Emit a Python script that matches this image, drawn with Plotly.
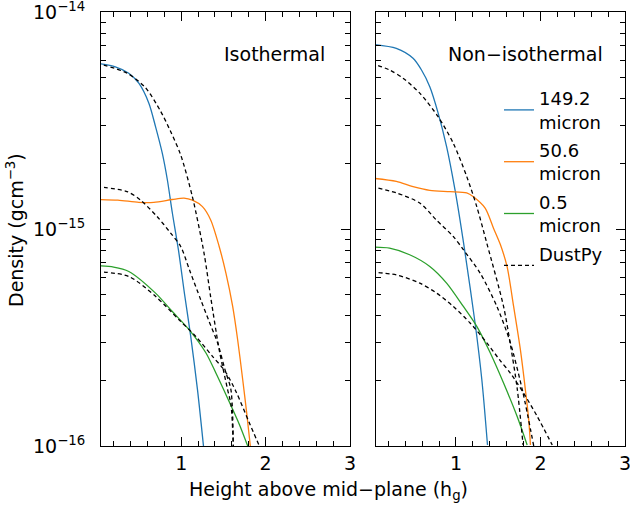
import plotly.graph_objects as go

# ---------------- data (height in h_g, density in g cm^-3) ----------------
# Isothermal panel
iso_blue_x = [0.0, 0.22, 0.379, 0.498, 0.617, 0.696, 0.776, 0.836, 0.895, 0.967, 1.040, 1.113, 1.193, 1.264]
iso_blue_y = [5.82e-15, 5.61e-15, 5.24e-15, 4.71e-15, 3.81e-15, 2.97e-15, 2.24e-15, 1.69e-15, 1.19e-15, 8.04e-16,
              5.01e-16, 3.20e-16, 1.82e-16, 1.0e-16]

iso_orange_x = [0.0, 0.25, 0.498, 0.676, 0.895, 1.033, 1.133, 1.252, 1.351, 1.45, 1.53, 1.61, 1.669, 1.729, 1.776, 1.819]
iso_orange_y = [1.37e-15, 1.36e-15, 1.33e-15, 1.33e-15, 1.37e-15, 1.39e-15, 1.36e-15, 1.27e-15, 1.10e-15, 8.32e-16,
                6.27e-16, 4.40e-16, 3.09e-16, 2.02e-16, 1.42e-16, 1.0e-16]

iso_green_x = [0.0, 0.2, 0.379, 0.696, 0.895, 1.093, 1.292, 1.411, 1.55, 1.688, 1.788]
iso_green_y = [6.78e-16, 6.68e-16, 6.38e-16, 5.07e-16, 4.17e-16, 3.44e-16, 2.69e-16, 2.17e-16, 1.66e-16, 1.26e-16, 1.0e-16]

iso_dp1_x = [0.0, 0.36, 0.577, 0.756, 0.875, 0.994, 1.133, 1.271, 1.351, 1.45, 1.55, 1.59, 1.617]
iso_dp1_y = [5.83e-15, 5.24e-15, 4.49e-15, 3.50e-15, 2.82e-15, 2.20e-15, 1.41e-15, 7.74e-16, 4.82e-16, 2.78e-16,
             1.82e-16, 1.55e-16, 1.0e-16]
iso_dp2_x = [0.0, 0.36, 0.52, 0.717, 0.875, 0.994, 1.1, 1.232, 1.33, 1.431, 1.52, 1.589, 1.617]
iso_dp2_y = [1.57e-15, 1.49e-15, 1.36e-15, 1.14e-15, 9.59e-16, 8.32e-16, 6.46e-16, 4.72e-16, 3.76e-16, 2.99e-16,
             2.24e-16, 1.82e-16, 1.0e-16]
iso_dp3_x = [0.0, 0.379, 0.696, 0.974, 1.173, 1.371, 1.521, 1.65, 1.807, 1.926]
iso_dp3_y = [6.38e-16, 6.05e-16, 4.90e-16, 3.82e-16, 3.20e-16, 2.59e-16, 2.21e-16, 1.78e-16, 1.28e-16, 1.0e-16]

# Non-isothermal panel
non_blue_x = [0.0, 0.294, 0.492, 0.592, 0.690, 0.789, 0.889, 0.988, 1.048, 1.099, 1.226, 1.306, 1.373]
non_blue_y = [7.13e-15, 6.82e-15, 6.14e-15, 5.42e-15, 4.54e-15, 3.43e-15, 2.40e-15, 1.52e-15, 1.10e-15, 8.17e-16,
              3.69e-16, 2.02e-16, 1.01e-16]

non_orange_x = [0.0, 0.294, 0.492, 0.69, 0.929, 1.127, 1.206, 1.345, 1.444, 1.524, 1.604, 1.682, 1.762, 1.821,
                1.861, 1.881]
non_orange_y = [1.72e-15, 1.66e-15, 1.57e-15, 1.51e-15, 1.49e-15, 1.47e-15, 1.41e-15, 1.25e-15, 1.01e-15, 8.51e-16,
                6.73e-16, 4.40e-16, 2.78e-16, 1.82e-16, 1.32e-16, 1.01e-16]

non_green_x = [0.0, 0.214, 0.452, 0.690, 0.889, 1.087, 1.246, 1.405, 1.563, 1.723, 1.842]
non_green_y = [8.26e-16, 8.17e-16, 7.62e-16, 6.73e-16, 5.64e-16, 4.40e-16, 3.56e-16, 2.69e-16, 1.95e-16, 1.37e-16,
               1.01e-16]

non_dp1_x = [0.0, 0.214, 0.373, 0.571, 0.789, 0.968, 1.127, 1.246, 1.365, 1.563, 1.643, 1.723, 1.794]
non_dp1_y = [5.82e-15, 5.42e-15, 4.97e-15, 4.24e-15, 3.30e-15, 2.49e-15, 1.75e-15, 1.27e-15, 8.61e-16, 4.40e-16,
             2.95e-16, 1.86e-16, 1.01e-16]
non_dp2_x = [0.0, 0.294, 0.571, 0.770, 0.968, 1.087, 1.286, 1.484, 1.64, 1.79, 1.92]
non_dp2_y = [1.57e-15, 1.47e-15, 1.32e-15, 1.10e-15, 9.25e-16, 8.04e-16, 6.27e-16, 4.40e-16, 3.02e-16, 1.78e-16, 1.0e-16]
non_dp3_x = [0.0, 0.294, 0.571, 0.770, 0.968, 1.167, 1.365, 1.515, 1.643, 1.801, 1.961, 2.139]
non_dp3_y = [6.34e-16, 6.15e-16, 5.64e-16, 5.07e-16, 4.40e-16, 3.69e-16, 2.99e-16, 2.50e-16, 2.17e-16, 1.75e-16,
             1.37e-16, 1.01e-16]

series_names = ["149.2<br>micron", "50.6<br>micron", "0.5<br>micron", "DustPy<br> "]
panel_titles = ["Isothermal", "Non\u2212isothermal"]
x_tick_vals = [1, 2, 3]
x_tick_text = ["1", "2", "3"]
y_tick_vals = [1e-16, 1e-15, 1e-14]
y_tick_text = ["10<sup>\u221216</sup>", "10<sup>\u221215</sup>", "10<sup>\u221214</sup>"]
x_title = "Height above mid\u2212plane (h<sub>g</sub>)"
y_title = "Density (gcm<sup>\u22123</sup>)"

# ---------------- styling ----------------
BLUE, ORANGE, GREEN = "#1f77b4", "#ff7f0e", "#2ca02c"
FONT = "DejaVu Sans"
LW = 1.3
DASH = "4px,3px"

fig = go.Figure()

def add(x, y, color, name, xa, ya, show, dash=None):
    fig.add_trace(go.Scatter(
        x=x, y=y, mode="lines", name=name, showlegend=show, legendgroup=name,
        line=dict(color=color, width=LW, dash=dash, shape="spline", smoothing=0.8),
        xaxis=xa, yaxis=ya, hoverinfo="skip"))

# isothermal
add(iso_blue_x, iso_blue_y, BLUE, series_names[0], "x", "y", False)
add(iso_orange_x, iso_orange_y, ORANGE, series_names[1], "x", "y", False)
add(iso_green_x, iso_green_y, GREEN, series_names[2], "x", "y", False)
for xs, ys in [(iso_dp1_x, iso_dp1_y), (iso_dp2_x, iso_dp2_y), (iso_dp3_x, iso_dp3_y)]:
    add(xs, ys, "black", series_names[3], "x", "y", False, DASH)
# non-isothermal
add(non_blue_x, non_blue_y, BLUE, series_names[0], "x2", "y2", True)
add(non_orange_x, non_orange_y, ORANGE, series_names[1], "x2", "y2", True)
add(non_green_x, non_green_y, GREEN, series_names[2], "x2", "y2", True)
first = True
for xs, ys in [(non_dp1_x, non_dp1_y), (non_dp2_x, non_dp2_y), (non_dp3_x, non_dp3_y)]:
    add(xs, ys, "black", series_names[3], "x2", "y2", first, DASH)
    first = False

W, H = 630, 505
xdom1 = [101 / W, 350 / W]
xdom2 = [375.7 / W, 625 / W]
ydom = [(H - 446) / H, (H - 12.3) / H]

common_x = dict(range=[0.05, 3], tickvals=x_tick_vals, ticktext=x_tick_text, ticks="inside", ticklen=9,
                tickwidth=1, tickcolor="black", showline=True, linecolor="black", linewidth=1, mirror="ticks",
                showgrid=False, zeroline=False, tickfont=dict(family=FONT, size=19, color="black"),
                minor=dict(ticks="inside", ticklen=5, dtick=0.2, tick0=0, tickcolor="black", tickwidth=1,
                           showgrid=False),
                ticklabelstandoff=0, automargin=False, ticklabeloverflow="allow")
minor_y = [m * 10.0 ** e for e in (-16, -15) for m in range(2, 10)]
common_y = dict(type="log", range=[-16.0002, -13.9998], tickvals=y_tick_vals, ticktext=y_tick_text,
                ticks="inside", ticklen=9, tickwidth=1, tickcolor="black", showline=True, linecolor="black",
                linewidth=1, mirror="ticks", showgrid=False, zeroline=False,
                tickfont=dict(family=FONT, size=19, color="black"),
                minor=dict(ticks="inside", ticklen=5, tickvals=minor_y, tickcolor="black", tickwidth=1,
                           showgrid=False),
                ticklabelstandoff=11, automargin=False, ticklabeloverflow="allow")

fig.update_layout(
    width=W, height=H,
    margin=dict(l=0, r=0, t=0, b=0, pad=0, autoexpand=False),
    paper_bgcolor="white", plot_bgcolor="white",
    font=dict(family=FONT, size=19, color="black"),
    xaxis=dict(domain=xdom1, anchor="y", **common_x),
    yaxis=dict(domain=ydom, anchor="x", **common_y),
    xaxis2=dict(domain=xdom2, anchor="y2", **common_x),
    yaxis2=dict(domain=ydom, anchor="x2", showticklabels=False, **common_y),
    legend=dict(x=499 / W, y=1 - 80 / H, xanchor="left", yanchor="top", bgcolor="rgba(0,0,0,0)",
                font=dict(family=FONT, size=18, color="black"), tracegroupgap=2, valign="middle"),
    showlegend=True,
    annotations=[
        dict(text=panel_titles[0], x=274 / W, y=1 - 54.5 / H, xref="paper", yref="paper",
             showarrow=False, xanchor="center", yanchor="middle", font=dict(family=FONT, size=19)),
        dict(text=panel_titles[1], x=525.5 / W, y=1 - 54.5 / H, xref="paper", yref="paper",
             showarrow=False, xanchor="center", yanchor="middle", font=dict(family=FONT, size=19)),
        dict(text=x_title, x=328 / W, y=1 - 490 / H, xref="paper", yref="paper",
             showarrow=False, xanchor="center", yanchor="middle", font=dict(family=FONT, size=19)),
        dict(text=y_title, x=15 / W, y=1 - 230 / H, xref="paper", yref="paper", textangle=-90,
             showarrow=False, xanchor="center", yanchor="middle", font=dict(family=FONT, size=19)),
    ],
)

fig.write_html("out.html", config={"displayModeBar": False},
               post_script="document.body.style.margin='0px';")
